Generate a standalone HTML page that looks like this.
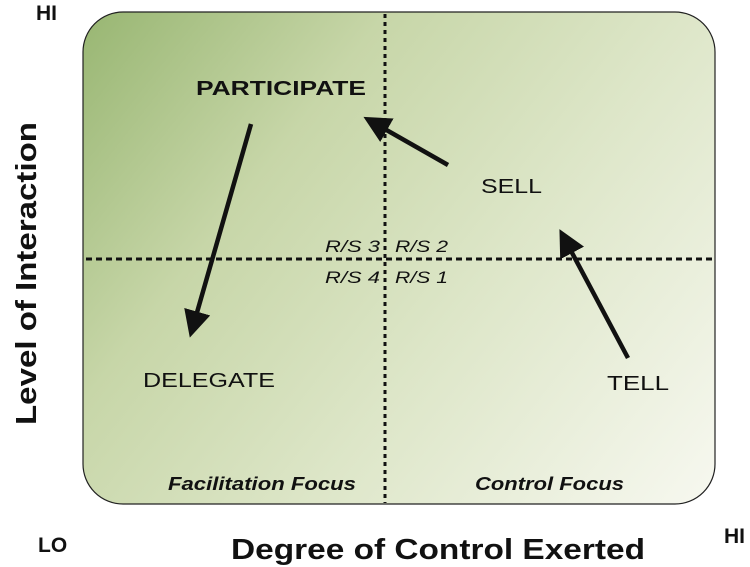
<!DOCTYPE html>
<html><head><style>
html,body{margin:0;padding:0;background:#fff;width:750px;height:567px;overflow:hidden}
svg{display:block}
text{font-family:"Liberation Sans",Arial,sans-serif;fill:#111}
</style></head><body>
<svg width="750" height="567" viewBox="0 0 750 567" xmlns="http://www.w3.org/2000/svg">
<defs>
<linearGradient id="g" x1="83" y1="12" x2="715" y2="504" gradientUnits="userSpaceOnUse">
<stop offset="0" stop-color="#98b672"/>
<stop offset="0.3" stop-color="#c7d6a8"/>
<stop offset="0.6" stop-color="#dde6c8"/>
<stop offset="1" stop-color="#f7f8f0"/>
</linearGradient>
<marker id="ah" markerWidth="6" markerHeight="6" refX="1" refY="3" orient="auto" markerUnits="strokeWidth">
<path d="M0,0 L6,3 L0,6 z" fill="#111"/>
</marker>
</defs>
<rect x="83" y="12" width="632" height="492" rx="40" ry="40" fill="url(#g)" stroke="#222" stroke-width="1.2"/>
<line x1="385" y1="14" x2="385" y2="503" stroke="#111" stroke-width="3" stroke-dasharray="4,4"/>
<line x1="86" y1="259" x2="714" y2="259" stroke="#111" stroke-width="3" stroke-dasharray="6,4"/>
<line x1="251" y1="124" x2="196" y2="316" stroke="#111" stroke-width="4.5" marker-end="url(#ah)"/>
<line x1="448" y1="165" x2="383" y2="128" stroke="#111" stroke-width="4.5" marker-end="url(#ah)"/>
<line x1="628" y1="358" x2="570" y2="249" stroke="#111" stroke-width="4.5" marker-end="url(#ah)"/>
<text x="196" y="95" font-size="20" font-weight="bold" textLength="170" lengthAdjust="spacingAndGlyphs">PARTICIPATE</text>
<text x="481" y="193" font-size="20" textLength="61" lengthAdjust="spacingAndGlyphs">SELL</text>
<text x="143" y="387" font-size="20" textLength="132" lengthAdjust="spacingAndGlyphs">DELEGATE</text>
<text x="607" y="390" font-size="20" textLength="62" lengthAdjust="spacingAndGlyphs">TELL</text>
<text x="325" y="252" font-size="17" font-style="italic" textLength="55" lengthAdjust="spacingAndGlyphs">R/S 3</text>
<text x="395" y="252" font-size="17" font-style="italic" textLength="53" lengthAdjust="spacingAndGlyphs">R/S 2</text>
<text x="325" y="283" font-size="17" font-style="italic" textLength="55" lengthAdjust="spacingAndGlyphs">R/S 4</text>
<text x="395" y="283" font-size="17" font-style="italic" textLength="53" lengthAdjust="spacingAndGlyphs">R/S 1</text>
<text x="168" y="490" font-size="18" font-weight="bold" font-style="italic" textLength="188" lengthAdjust="spacingAndGlyphs">Facilitation Focus</text>
<text x="475" y="490" font-size="18" font-weight="bold" font-style="italic" textLength="149" lengthAdjust="spacingAndGlyphs">Control Focus</text>
<text x="36" y="20" font-size="21" font-weight="bold">HI</text>
<text x="38" y="552" font-size="21" font-weight="bold">LO</text>
<text x="724" y="543" font-size="21" font-weight="bold">HI</text>
<text x="231" y="559" font-size="29" font-weight="bold" textLength="414" lengthAdjust="spacingAndGlyphs">Degree of Control Exerted</text>
<text transform="translate(36,425) rotate(-90)" font-size="29" font-weight="bold" textLength="303" lengthAdjust="spacingAndGlyphs">Level of Interaction</text>
</svg>
</body></html>
